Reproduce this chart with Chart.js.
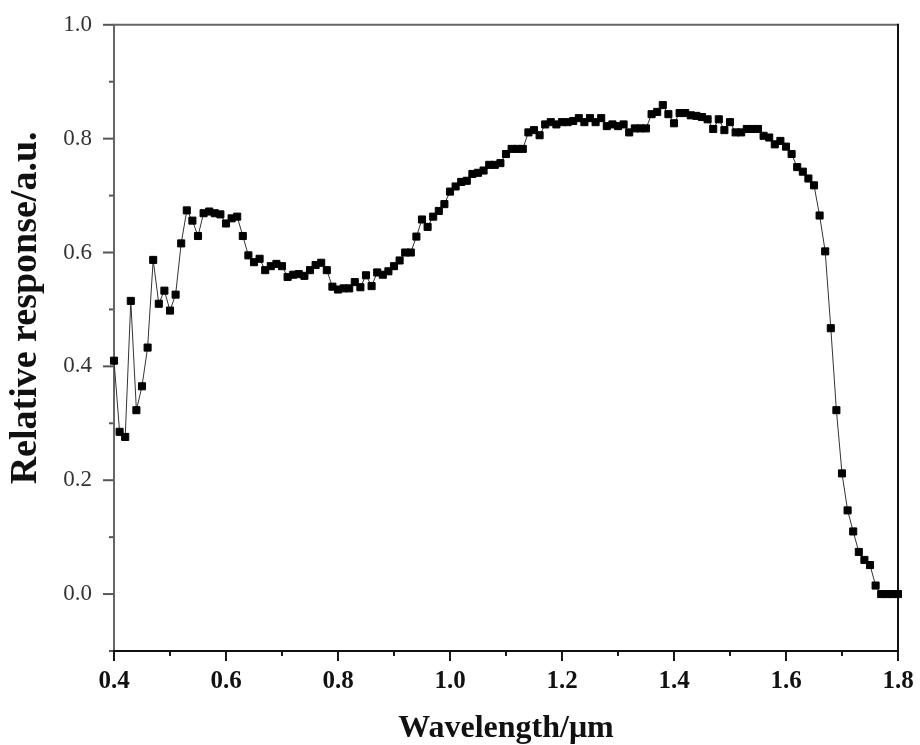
<!DOCTYPE html>
<html lang="en">
<head>
    <meta charset="UTF-8">
    <title>Relative response</title>
    <script src="https://cdn.jsdelivr.net/npm/chart.js"></script>
    <style>
        body { margin: 0; background: #fff; }
    </style>
</head>
<body>
    <canvas id="myChart" width="920" height="745"></canvas>

    <script>
        // wavelength in um
        const wavelength = [
            0.40, 0.41, 0.42, 0.43, 0.44, 0.45, 0.46, 0.47, 0.48, 0.49,
            0.50, 0.51, 0.52, 0.53, 0.54, 0.55, 0.56, 0.57, 0.58, 0.59,
            0.60, 0.61, 0.62, 0.63, 0.64, 0.65, 0.66, 0.67, 0.68, 0.69,
            0.70, 0.71, 0.72, 0.73, 0.74, 0.75, 0.76, 0.77, 0.78, 0.79,
            0.80, 0.81, 0.82, 0.83, 0.84, 0.85, 0.86, 0.87, 0.88, 0.89,
            0.90, 0.91, 0.92, 0.93, 0.94, 0.95, 0.96, 0.97, 0.98, 0.99,
            1.00, 1.01, 1.02, 1.03, 1.04, 1.05, 1.06, 1.07, 1.08, 1.09,
            1.10, 1.11, 1.12, 1.13, 1.14, 1.15, 1.16, 1.17, 1.18, 1.19,
            1.20, 1.21, 1.22, 1.23, 1.24, 1.25, 1.26, 1.27, 1.28, 1.29,
            1.30, 1.31, 1.32, 1.33, 1.34, 1.35, 1.36, 1.37, 1.38, 1.39,
            1.40, 1.41, 1.42, 1.43, 1.44, 1.45, 1.46, 1.47, 1.48, 1.49,
            1.50, 1.51, 1.52, 1.53, 1.54, 1.55, 1.56, 1.57, 1.58, 1.59,
            1.60, 1.61, 1.62, 1.63, 1.64, 1.65, 1.66, 1.67, 1.68, 1.69,
            1.70, 1.71, 1.72, 1.73, 1.74, 1.75, 1.76, 1.77, 1.78, 1.79,
            1.80
        ];

        // relative response (a.u.)
        const response = [
            0.410, 0.285, 0.276, 0.515, 0.323, 0.365, 0.433, 0.587, 0.510, 0.533,
            0.498, 0.526, 0.616, 0.674, 0.656, 0.629, 0.669, 0.672, 0.669, 0.667,
            0.651, 0.660, 0.663, 0.629, 0.595, 0.583, 0.589, 0.569, 0.576, 0.580,
            0.576, 0.557, 0.561, 0.562, 0.559, 0.569, 0.578, 0.582, 0.569, 0.540,
            0.535, 0.537, 0.537, 0.548, 0.539, 0.560, 0.541, 0.565, 0.561, 0.567,
            0.576, 0.586, 0.600, 0.600, 0.628, 0.658, 0.645, 0.663, 0.673, 0.685,
            0.707, 0.716, 0.724, 0.726, 0.738, 0.740, 0.744, 0.754, 0.754, 0.757,
            0.773, 0.782, 0.782, 0.782, 0.811, 0.815, 0.806, 0.825, 0.829, 0.825,
            0.829, 0.829, 0.831, 0.836, 0.829, 0.836, 0.829, 0.836, 0.822, 0.825,
            0.822, 0.825, 0.811, 0.818, 0.818, 0.818, 0.843, 0.847, 0.859, 0.843,
            0.827, 0.845, 0.845, 0.841, 0.840, 0.838, 0.834, 0.817, 0.834, 0.815,
            0.829, 0.811, 0.811, 0.817, 0.817, 0.817, 0.805, 0.802, 0.790, 0.796,
            0.786, 0.773, 0.750, 0.742, 0.730, 0.718, 0.665, 0.602, 0.467, 0.323,
            0.212, 0.147, 0.110, 0.074, 0.060, 0.051, 0.015, 0.000, 0.000, 0.000,
            0.000
        ];

        const xRange = [0.4, 1.8];
        const yRange = [-0.1, 1.0];
        const tickStep = 0.1;

        const serif = "'Liberation Serif', 'Times New Roman', serif";

        // labelled ticks are every other 0.1 step
        function isMajor(v) {
            return Math.round(v * 10) % 2 === 0;
        }

        // frame, outward tick marks (long at labels, short between) and y title
        const frame = {
            id: 'frame',
            beforeDatasetsDraw(chart) {
                const ctx = chart.ctx;
                const a = chart.chartArea;
                const xs = chart.scales.x;
                const ys = chart.scales.y;
                ctx.save();
                ctx.lineWidth = 2;

                ctx.strokeStyle = '#1a1a1a';
                xs.ticks.forEach(t => {
                    const px = xs.getPixelForValue(t.value);
                    const len = isMajor(t.value) ? 10 : 5;
                    ctx.beginPath();
                    ctx.moveTo(px, a.bottom);
                    ctx.lineTo(px, a.bottom + len);
                    ctx.stroke();
                });

                ctx.strokeStyle = '#555';
                ys.ticks.forEach(t => {
                    const py = ys.getPixelForValue(t.value);
                    const len = isMajor(t.value) ? 11 : 5;
                    ctx.beginPath();
                    ctx.moveTo(a.left, py);
                    ctx.lineTo(a.left - len, py);
                    ctx.stroke();
                });

                // top and left in grey, bottom and right in black
                ctx.strokeStyle = '#666';
                ctx.beginPath();
                ctx.moveTo(a.left, a.bottom);
                ctx.lineTo(a.left, a.top);
                ctx.lineTo(a.right, a.top);
                ctx.stroke();
                ctx.strokeStyle = '#111';
                ctx.beginPath();
                ctx.moveTo(a.left - 1, a.bottom);
                ctx.lineTo(a.right, a.bottom);
                ctx.lineTo(a.right, a.top - 1);
                ctx.stroke();

                ctx.restore();
            },
            afterDraw(chart) {
                const ctx = chart.ctx;
                const a = chart.chartArea;
                ctx.save();
                ctx.translate(26, (a.top + a.bottom) / 2 - 30);
                ctx.rotate(-Math.PI / 2);
                ctx.font = 'bold 38px ' + serif;
                ctx.fillStyle = '#111';
                ctx.textAlign = 'center';
                ctx.textBaseline = 'middle';
                ctx.fillText('Relative response/a.u.', 0, 0);
                ctx.restore();
            }
        };

        var ctx = document.getElementById('myChart').getContext('2d');
        var myChart = new Chart(ctx, {
            type: 'line',
            data: {
                datasets: [{
                    label: 'Relative response',
                    data: wavelength.map((w, i) => ({ x: w, y: response[i] })),
                    borderColor: '#333',
                    borderWidth: 1,
                    backgroundColor: '#000',
                    pointStyle: 'rect',
                    pointRadius: 5,
                    pointBorderWidth: 1,
                    pointBorderColor: '#000',
                    pointBackgroundColor: '#000',
                    tension: 0,
                    fill: false,
                    clip: false
                }]
            },
            options: {
                responsive: false,
                devicePixelRatio: 1,
                animation: false,
                layout: {
                    padding: { top: 20, right: 22, left: 0, bottom: 0 }
                },
                plugins: {
                    legend: { display: false },
                    tooltip: { enabled: false }
                },
                scales: {
                    x: {
                        type: 'linear',
                        min: xRange[0],
                        max: xRange[1],
                        afterFit: scale => { scale.height = 94; },
                        border: { display: false },
                        grid: {
                            display: true,
                            drawOnChartArea: false,
                            drawTicks: true,
                            tickLength: 10,
                            tickColor: 'rgba(0,0,0,0)'
                        },
                        ticks: {
                            stepSize: tickStep,
                            autoSkip: false,
                            maxRotation: 0,
                            padding: 6,
                            color: '#111',
                            font: { family: serif, size: 25, weight: 'bold' },
                            callback: v => isMajor(v) ? v.toFixed(1) : ''
                        },
                        title: {
                            display: true,
                            text: 'Wavelength/μm',
                            color: '#111',
                            padding: 0,
                            font: { family: serif, size: 32, weight: 'bold', lineHeight: 1 }
                        }
                    },
                    y: {
                        min: yRange[0],
                        max: yRange[1],
                        afterFit: scale => { scale.width = 114; },
                        border: { display: false },
                        grid: {
                            display: true,
                            drawOnChartArea: false,
                            drawTicks: true,
                            tickLength: 11,
                            tickColor: 'rgba(0,0,0,0)'
                        },
                        ticks: {
                            stepSize: tickStep,
                            autoSkip: false,
                            padding: 11,
                            color: '#333',
                            font: { family: serif, size: 23 },
                            callback: v => isMajor(v) ? v.toFixed(1) : ''
                        }
                    }
                }
            },
            plugins: [frame]
        });
    </script>
</body>
</html>
